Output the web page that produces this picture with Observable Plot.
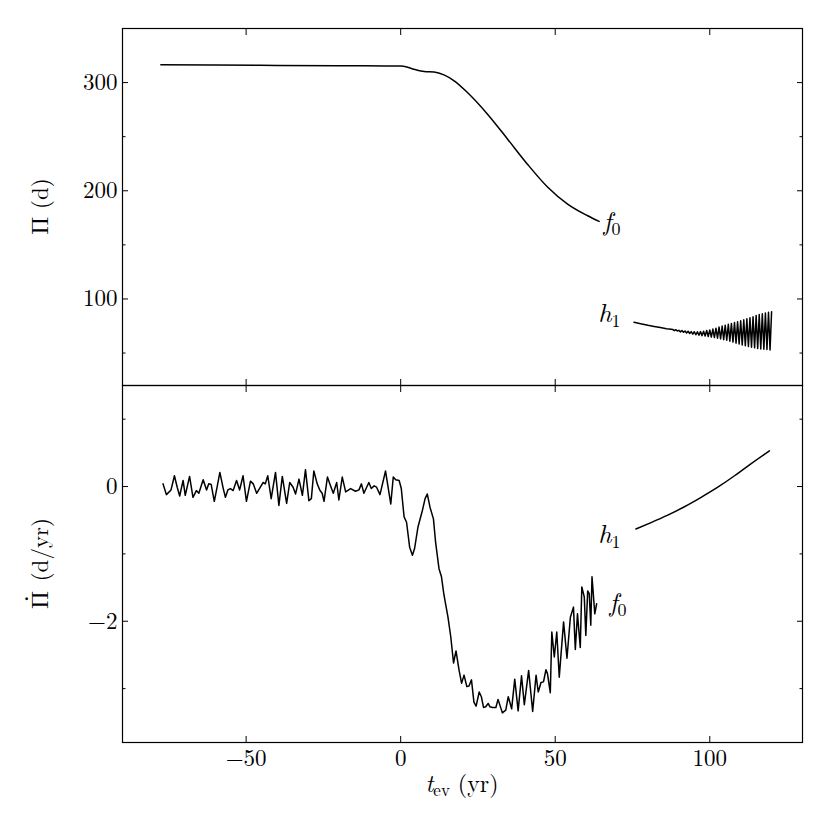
<!DOCTYPE html>
<html><head><meta charset="utf-8">
<script src="https://cdn.jsdelivr.net/npm/d3@7"></script>
<script src="https://cdn.jsdelivr.net/npm/@observablehq/plot@0.6"></script>
<style>
body{margin:0;background:#fff;}
#chart{position:relative;width:830px;height:830px;background:#fff;}
#chart svg{display:block;overflow:visible;background:none;}
</style></head><body><div id="chart"></div>
<script>
// ---- data ----
const f0PeriodT = [-77.6,-60,-40,-20,-5,0,2,4.3,7.6,10.8,14,17.3,21.6,28.1,34.6,41.0,47.5,54,60.5,64.2];
const f0PeriodP = [316.4,316.2,315.9,315.6,315.4,315.3,314.5,312.3,310.3,309.8,307.1,301.6,290.8,270.8,247.7,224.6,203.5,187.7,176.9,171.7];
const h1PeriodT = [75.5,78,80,82,84,86,87.5,88.0,88.5,89.0,89.5,90.0,90.5,91.0,91.5,92.0,92.5,93.0,93.5,94.0,94.5,95.0,95.5,96.0,96.5,97.0,97.5,98.0,98.5,99.0,99.5,100.0,100.5,101.0,101.5,102.0,102.5,103.0,103.5,104.0,104.5,105.0,105.5,106.0,106.5,107.0,107.5,108.0,108.5,109.0,109.5,110.0,110.5,111.0,111.5,112.0,112.5,113.0,113.5,114.0,114.5,115.0,115.5,116.0,116.5,117.0,117.5,118.0,118.5,119.0,119.5,120.0];
const h1PeriodP = [78.4,76.8,75.6,74.6,73.6,72.5,72.0,71.8,70.7,71.6,70.4,71.0,69.6,70.8,69.2,70.4,68.6,70.1,68.1,69.8,67.4,69.7,66.9,69.6,66.4,69.8,66.1,70.2,65.7,70.8,65.3,71.4,64.8,72.2,64.3,73.0,63.7,74.0,63.1,75.0,62.4,75.8,61.8,76.6,61.0,77.4,60.1,78.2,59.2,79.0,58.3,79.8,57.5,80.7,56.8,81.6,56.1,82.6,55.4,83.6,54.8,84.6,54.3,85.6,53.8,86.3,53.5,87.0,53.2,87.6,52.9,88.2];
const f0DotT = [-76.9,-75.8,-74.3,-73.2,-72.3,-71.5,-70.4,-69.7,-68.3,-67.2,-66.1,-65.3,-63.9,-62.8,-62.1,-61.3,-60.3,-59.4,-58.5,-57.4,-56.7,-55.9,-55.1,-54.2,-53.1,-52.1,-51.0,-49.9,-48.6,-47.7,-46.6,-45.4,-44.5,-43.8,-43.0,-41.9,-40.5,-39.4,-38.3,-36.9,-35.9,-34.8,-34.0,-32.9,-31.8,-30.8,-29.7,-28.9,-28.1,-27.0,-26.1,-25.4,-24.8,-23.7,-22.7,-21.8,-20.7,-20.0,-18.9,-17.8,-16.2,-14.6,-13.5,-12.7,-11.9,-10.3,-9.5,-8.6,-7.8,-6.7,-4.9,-3.2,-2.4,-1.6,-0.5,0.2,1.1,1.9,2.9,3.8,4.5,5.6,7.0,7.9,8.6,9.5,10.6,11.3,12.4,13.2,14.0,15.3,16.2,17.1,17.9,18.9,19.7,20.5,21.4,22.1,22.9,23.7,24.4,25.4,26.1,26.8,27.5,28.3,28.9,29.7,30.8,31.5,32.9,34.0,34.8,35.9,36.9,38.0,39.1,40.0,41.4,42.7,43.8,44.5,45.4,46.2,47.0,47.5,48.4,48.9,49.7,50.5,51.3,52.7,53.8,54.9,55.9,56.5,57.2,58.1,58.6,59.4,59.9,60.5,61.0,61.5,61.9,62.8,63.4];
const f0DotV = [0.04,-0.12,-0.05,0.16,-0.01,-0.14,0.09,-0.13,0.15,-0.16,-0.06,-0.10,0.10,-0.05,0.04,0.03,-0.22,-0.01,0.21,-0.03,-0.16,-0.05,-0.03,-0.06,0.09,-0.05,0.16,-0.22,0.08,0.04,-0.10,-0.01,0.06,0.04,0.16,-0.18,0.21,-0.28,0.15,-0.25,0.06,-0.01,-0.11,0.11,-0.13,0.25,-0.21,-0.18,0.23,0.04,-0.06,-0.10,-0.22,0.14,0.01,-0.10,0.06,-0.20,0.14,-0.08,-0.03,-0.07,-0.05,0.04,-0.10,0.06,-0.03,0.01,-0.01,-0.12,0.23,-0.26,0.14,0.10,0.09,-0.03,-0.45,-0.53,-0.90,-1.02,-0.92,-0.60,-0.36,-0.18,-0.11,-0.31,-0.48,-0.83,-1.22,-1.34,-1.61,-1.94,-2.23,-2.62,-2.44,-2.73,-2.92,-2.80,-2.97,-2.96,-2.87,-3.20,-3.26,-3.05,-3.12,-3.28,-3.27,-3.22,-3.27,-3.28,-3.28,-3.16,-3.36,-3.32,-3.12,-3.30,-2.86,-3.33,-2.81,-3.24,-2.73,-3.34,-2.80,-3.05,-2.91,-2.90,-2.72,-2.78,-3.06,-2.16,-2.53,-2.16,-2.83,-2.01,-2.55,-1.94,-1.79,-2.42,-1.89,-2.39,-1.49,-1.64,-2.21,-1.55,-1.59,-2.06,-1.34,-1.89,-1.74];
const h1DotT = [76.1,81.0,86.4,91.8,97.2,102.6,108.0,113.4,119.3];
const h1DotV = [-0.63,-0.535,-0.425,-0.30,-0.16,-0.01,0.16,0.34,0.53];
const xTicks = [-50, 0, 50, 100];
const yTopMajor = [100, 200, 300];
const yTopMinor = [50, 150, 250];
const yBotMajor = [-2, 0];
const yBotMinor = [-3, -1, 1];
const topLabels = [{main:"f", sub:"0", t:65.8, v:163.5, anchor:"start"}, {main:"h", sub:"1", t:71.3, v:78.1, anchor:"end"}];
const botLabels = [{main:"h", sub:"1", t:71.3, v:-0.845, anchor:"end"}, {main:"f", sub:"0", t:67.7, v:-1.85, anchor:"start"}];
const topYTitle = {sym:"Π", dot:false, rest:" (d)"};
const botYTitle = {sym:"Π", dot:true, rest:" (d/yr)"};

const f0Top = f0PeriodT.map((t,i)=>({t, v:f0PeriodP[i]}));
const h1Top = h1PeriodT.map((t,i)=>({t, v:h1PeriodP[i]}));
const f0Bot = f0DotT.map((t,i)=>({t, v:f0DotV[i]}));
const h1Bot = h1DotT.map((t,i)=>({t, v:h1DotV[i]}));

const W = 830, ML = 122, MR = 28;
const FONT = "Latin Modern Roman, Liberation Serif, DejaVu Serif, serif";
const GREEK = "Latin Modern Math, Liberation Serif, serif";
const xDomain = [-90, 130];
const TK = -6, TKm = -3.5;
const fmt = d3.format("d");

function frameTicks(yMaj, yMin) {
  return [
    Plot.frame({stroke:"black", strokeWidth:1.2}),
    Plot.axisX(xTicks, {anchor:"top", tickSize:TK, fill:"none", label:null}),
    Plot.axisY(yMaj, {anchor:"left", tickSize:TK, tickPadding:11, tickFormat:fmt, label:null}),
    Plot.axisY(yMin, {anchor:"left", tickSize:TKm, fill:"none", label:null}),
    Plot.axisY(yMaj, {anchor:"right", tickSize:TK, fill:"none", label:null}),
    Plot.axisY(yMin, {anchor:"right", tickSize:TKm, fill:"none", label:null})
  ];
}

const topPlot = Plot.plot({
  width: W, height: 385, marginLeft: ML, marginRight: MR, marginTop: 28, marginBottom: 0,
  style: {fontFamily: FONT, fontSize: "23px", background: "none", color: "black"},
  x: {domain: xDomain, label: null},
  y: {domain: [20, 350], label: null},
  marks: [
    ...frameTicks(yTopMajor, yTopMinor),
    Plot.axisX(xTicks, {anchor:"bottom", tickSize:TK, fill:"none", label:null}),
    Plot.line(f0Top, {x:"t", y:"v", stroke:"black", strokeWidth:1.5, curve:"monotone-x"}),
    Plot.line(h1Top, {x:"t", y:"v", stroke:"black", strokeWidth:1.5})
  ]
});

const botPlot = Plot.plot({
  width: W, height: 445, marginLeft: ML, marginRight: MR, marginTop: 0, marginBottom: 88,
  style: {fontFamily: FONT, fontSize: "23px", background: "none", color: "black"},
  x: {domain: xDomain, label: null},
  y: {domain: [-3.8, 1.5], label: null},
  marks: [
    ...frameTicks(yBotMajor, yBotMinor),
    Plot.axisX(xTicks, {anchor:"bottom", tickSize:TK, tickPadding:13, tickFormat:fmt, label:null}),
    Plot.line(f0Bot, {x:"t", y:"v", stroke:"black", strokeWidth:1.5}),
    Plot.line(h1Bot, {x:"t", y:"v", stroke:"black", strokeWidth:1.5, curve:"natural"})
  ]
});

function addLabels(plot, labels) {
  const sx = plot.scale("x"), sy = plot.scale("y");
  const svg = d3.select(plot);
  for (const L of labels) {
    const t = svg.append("text")
      .attr("x", sx.apply(L.t)).attr("y", sy.apply(L.v))
      .attr("text-anchor", L.anchor)
      .style("font-family", FONT).attr("font-size", 26).attr("fill", "black");
    t.append("tspan").attr("font-style", "italic").text(L.main);
    t.append("tspan").attr("font-size", 18).attr("dy", 5).text(L.sub);
  }
}
addLabels(topPlot, topLabels);
addLabels(botPlot, botLabels);

function addYTitle(plot, title) {
  const r = plot.scale("y").range;
  const cy = (r[0] + r[1]) / 2;
  const t = d3.select(plot).append("text")
    .attr("transform", `translate(${ML - 82},${cy}) rotate(-90)`)
    .attr("text-anchor", "middle").attr("dy", "0.35em")
    .style("font-family", FONT).attr("font-size", 23).attr("fill", "black");
  t.append("tspan").style("font-family", GREEK).attr("font-size", 24).text(title.sym);
  if (title.dot) {
    t.append("tspan").style("font-family", "Liberation Serif, serif").attr("font-size", 24)
      .attr("dx", -11.7).attr("dy", -14).text("\u00B7");
    t.append("tspan").attr("dx", 5.7).attr("dy", 14).text(title.rest);
  } else {
    t.append("tspan").text(title.rest);
  }
}
addYTitle(topPlot, topYTitle);
addYTitle(botPlot, botYTitle);

{
  const t = d3.select(botPlot).append("text")
    .attr("x", ML + (W - ML - MR) / 2).attr("y", 407)
    .attr("text-anchor", "middle")
    .style("font-family", FONT).attr("font-size", 24).attr("fill", "black");
  t.append("tspan").attr("font-style", "italic").text("t");
  t.append("tspan").attr("font-size", 17).attr("dy", 4).text("ev");
  t.append("tspan").attr("dy", -4).text(" (yr)");
}

const chart = document.getElementById("chart");
chart.appendChild(topPlot);
chart.appendChild(botPlot);
</script></body></html>
